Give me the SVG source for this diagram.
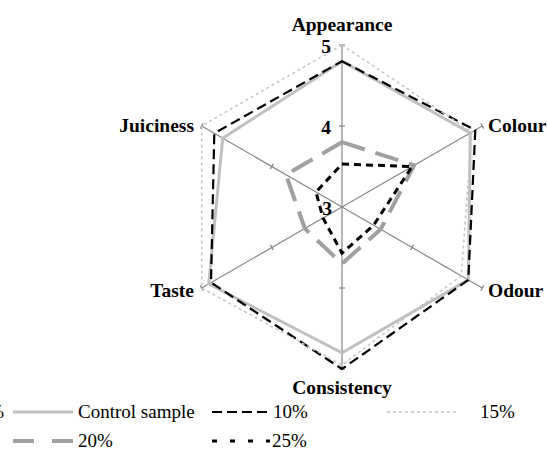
<svg xmlns="http://www.w3.org/2000/svg" xmlns:xlink="http://www.w3.org/1999/xlink" width="548" height="457" viewBox="0 0 548 457">
<style>
.lab{font-weight:bold;font-size:19.5px}
.leg{font-size:19px}
.spoke{stroke:#868686;stroke-width:1.2;fill:none}
.s{fill:none;stroke-linejoin:miter}
.ctrl{stroke:#c0c0c0;stroke-width:3}
.p10{stroke:#000;stroke-width:2.2;stroke-dasharray:10 5}
.p15{stroke:#c4c4c4;stroke-width:1.5;stroke-dasharray:3 3}
.p20{stroke:#a0a0a0;stroke-width:4;stroke-dasharray:24 11}
.p25{stroke:#000;stroke-width:3;stroke-dasharray:7 5}
</style>
<defs>
<g id="spk">
<line class="spoke" x1="342" y1="207" x2="342" y2="45"/>
<line class="spoke" x1="339" y1="126" x2="345" y2="126"/>
<line class="spoke" x1="339" y1="45" x2="345" y2="45"/>
</g>
</defs>
<g id="axes">
<use xlink:href="#spk"/>
<use xlink:href="#spk" transform="rotate(60 342 207)"/>
<use xlink:href="#spk" transform="rotate(120 342 207)"/>
<use xlink:href="#spk" transform="rotate(180 342 207)"/>
<use xlink:href="#spk" transform="rotate(240 342 207)"/>
<use xlink:href="#spk" transform="rotate(300 342 207)"/>
</g>
<g id="series">
<polygon id="control" class="s ctrl" points="342,61.2 470.3,132.9 468.3,279.9 342,352.8 208.7,283.95 222.75,138.15"/>
<polygon id="s10" class="s p10" points="342,61.2 475.3,130.05 468.3,279.9 342,369 211,282.6 214.3,133.3"/>
<polygon id="s15" class="s p15" points="342,45 471.8,132.1 461.25,275.85 342,365 201.7,288 201.7,126"/>
<polygon id="s20" class="s p20" points="342,142.2 414.2,165.3 380.6,229.3 342,263.7 304.8,228.5 285.9,174.6"/>
<polygon id="s25" class="s p25" points="342,164.1 412.1,166.5 373.6,225.2 342,253.2 323,217.95 316,192"/>
</g>
<g id="labels" font-family="Liberation Serif, Times New Roman, DejaVu Serif, serif" fill="#000">
<text class="lab" x="342" y="31" text-anchor="middle">Appearance</text>
<text class="lab" x="488" y="132">Colour</text>
<text class="lab" x="488" y="297">Odour</text>
<text class="lab" x="342" y="394" text-anchor="middle">Consistency</text>
<text class="lab" x="194" y="297" text-anchor="end">Taste</text>
<text class="lab" x="194" y="132" text-anchor="end">Juiciness</text>
<text class="lab" x="331" y="53" text-anchor="end">5</text>
<text class="lab" x="331" y="134" text-anchor="end">4</text>
<text class="lab" x="332" y="215" text-anchor="end">3</text>
</g>
<g id="legend" font-family="Liberation Serif, Times New Roman, DejaVu Serif, serif" fill="#000">
<text class="leg" x="4" y="418" text-anchor="end">%</text>
<line class="ctrl" x1="13" y1="412" x2="73" y2="412"/>
<text class="leg" x="78" y="418">Control sample</text>
<line class="p10" x1="212" y1="412" x2="270" y2="412"/>
<text class="leg" x="273" y="418">10%</text>
<line class="p15" x1="387" y1="412" x2="458" y2="412"/>
<text class="leg" x="480" y="418">15%</text>
<line stroke="#a0a0a0" stroke-width="4" stroke-dasharray="21 18" x1="13" y1="441" x2="73" y2="441"/>
<text class="leg" x="78" y="447">20%</text>
<line stroke="#000" stroke-width="3" stroke-dasharray="5 13" x1="212" y1="441" x2="270" y2="441"/>
<text class="leg" x="272" y="447">25%</text>
</g>
</svg>
